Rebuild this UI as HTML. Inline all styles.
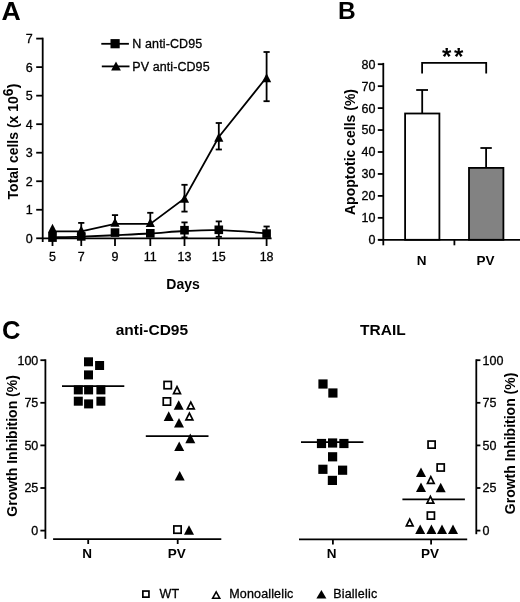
<!DOCTYPE html><html><head><meta charset="utf-8"><style>html,body{margin:0;padding:0;background:#fff;}svg{display:block;filter:grayscale(1);}text{font-family:"Liberation Sans", sans-serif;fill:#000;} text.r{stroke:#000;stroke-width:0.3px;}</style></head><body>
<svg width="520" height="602" viewBox="0 0 520 602">
<rect width="520" height="602" fill="#fff"/>
<text transform="translate(1.5,19.6) scale(1.05,1)" font-size="25.4" font-weight="bold">A</text>
<line x1="42.70" y1="37.70" x2="42.70" y2="242.00" stroke="#000" stroke-width="1.8"/>
<line x1="36.20" y1="238.30" x2="42.70" y2="238.30" stroke="#000" stroke-width="1.8"/>
<text x="32.70" y="242.70" font-size="12.5" text-anchor="end" class="r">0</text>
<line x1="36.20" y1="209.77" x2="42.70" y2="209.77" stroke="#000" stroke-width="1.8"/>
<text x="32.70" y="214.17" font-size="12.5" text-anchor="end" class="r">1</text>
<line x1="36.20" y1="181.24" x2="42.70" y2="181.24" stroke="#000" stroke-width="1.8"/>
<text x="32.70" y="185.64" font-size="12.5" text-anchor="end" class="r">2</text>
<line x1="36.20" y1="152.71" x2="42.70" y2="152.71" stroke="#000" stroke-width="1.8"/>
<text x="32.70" y="157.11" font-size="12.5" text-anchor="end" class="r">3</text>
<line x1="36.20" y1="124.19" x2="42.70" y2="124.19" stroke="#000" stroke-width="1.8"/>
<text x="32.70" y="128.59" font-size="12.5" text-anchor="end" class="r">4</text>
<line x1="36.20" y1="95.66" x2="42.70" y2="95.66" stroke="#000" stroke-width="1.8"/>
<text x="32.70" y="100.06" font-size="12.5" text-anchor="end" class="r">5</text>
<line x1="36.20" y1="67.13" x2="42.70" y2="67.13" stroke="#000" stroke-width="1.8"/>
<text x="32.70" y="71.53" font-size="12.5" text-anchor="end" class="r">6</text>
<line x1="36.20" y1="38.60" x2="42.70" y2="38.60" stroke="#000" stroke-width="1.8"/>
<text x="32.70" y="43.00" font-size="12.5" text-anchor="end" class="r">7</text>
<line x1="42.70" y1="238.30" x2="271.60" y2="238.30" stroke="#000" stroke-width="1.8"/>
<line x1="52.50" y1="238.30" x2="52.50" y2="246.00" stroke="#000" stroke-width="1.8"/>
<text x="52.50" y="260.80" font-size="12.5" text-anchor="middle" class="r">5</text>
<line x1="81.25" y1="238.30" x2="81.25" y2="246.00" stroke="#000" stroke-width="1.8"/>
<text x="81.25" y="260.80" font-size="12.5" text-anchor="middle" class="r">7</text>
<line x1="115.00" y1="238.30" x2="115.00" y2="246.00" stroke="#000" stroke-width="1.8"/>
<text x="115.00" y="260.80" font-size="12.5" text-anchor="middle" class="r">9</text>
<line x1="150.30" y1="238.30" x2="150.30" y2="246.00" stroke="#000" stroke-width="1.8"/>
<text x="150.30" y="260.80" font-size="12.5" text-anchor="middle" class="r">11</text>
<line x1="184.50" y1="238.30" x2="184.50" y2="246.00" stroke="#000" stroke-width="1.8"/>
<text x="184.50" y="260.80" font-size="12.5" text-anchor="middle" class="r">13</text>
<line x1="218.80" y1="238.30" x2="218.80" y2="246.00" stroke="#000" stroke-width="1.8"/>
<text x="218.80" y="260.80" font-size="12.5" text-anchor="middle" class="r">15</text>
<line x1="266.60" y1="238.30" x2="266.60" y2="246.00" stroke="#000" stroke-width="1.8"/>
<text x="266.60" y="260.80" font-size="12.5" text-anchor="middle" class="r">18</text>
<text x="183.00" y="288.80" font-size="14" text-anchor="middle" font-weight="bold">Days</text>
<text transform="translate(17.9,199.4) rotate(-90)" font-size="14" font-weight="bold">Total cells (x 10<tspan dy="-5">6</tspan><tspan dy="5">)</tspan></text>
<line x1="101.30" y1="43.80" x2="128.90" y2="43.80" stroke="#000" stroke-width="1.8"/>
<rect x="110.50" y="39.10" width="9.20" height="9.20" fill="#000"/>
<text x="132.30" y="48.20" font-size="12.5" text-anchor="start" class="r" letter-spacing="0.12">N anti-CD95</text>
<line x1="101.80" y1="66.40" x2="129.50" y2="66.40" stroke="#000" stroke-width="1.8"/>
<polygon points="116.00,61.40 120.90,70.60 111.10,70.60" fill="#000"/>
<text x="132.30" y="70.70" font-size="12.5" text-anchor="start" class="r" letter-spacing="0.08">PV anti-CD95</text>
<path d="M52.50,237.30 C57.29,237.18 70.83,236.95 81.25,236.60 C91.67,236.25 103.49,235.72 115.00,235.20 C126.51,234.68 138.72,234.20 150.30,233.50 C161.88,232.80 173.08,231.55 184.50,231.00 C195.92,230.45 205.12,229.83 218.80,230.20 C232.48,230.57 258.63,232.70 266.60,233.20" fill="none" stroke="#000" stroke-width="1.8"/>
<polyline points="52.50,231.30 81.25,231.30 115.00,223.90 150.30,223.90 184.50,198.40 218.80,137.00 266.60,77.30" fill="none" stroke="#000" stroke-width="1.8"/>

<line x1="81.25" y1="231.30" x2="81.25" y2="222.90" stroke="#000" stroke-width="1.8"/><line x1="78.15" y1="222.90" x2="84.35" y2="222.90" stroke="#000" stroke-width="1.8"/>
<line x1="115.00" y1="223.90" x2="115.00" y2="215.10" stroke="#000" stroke-width="1.8"/><line x1="111.90" y1="215.10" x2="118.10" y2="215.10" stroke="#000" stroke-width="1.8"/>
<line x1="150.30" y1="223.90" x2="150.30" y2="212.80" stroke="#000" stroke-width="1.8"/><line x1="147.20" y1="212.80" x2="153.40" y2="212.80" stroke="#000" stroke-width="1.8"/>
<line x1="184.50" y1="198.40" x2="184.50" y2="184.80" stroke="#000" stroke-width="1.8"/><line x1="181.40" y1="184.80" x2="187.60" y2="184.80" stroke="#000" stroke-width="1.8"/><line x1="184.50" y1="198.40" x2="184.50" y2="211.60" stroke="#000" stroke-width="1.8"/><line x1="181.40" y1="211.60" x2="187.60" y2="211.60" stroke="#000" stroke-width="1.8"/>
<line x1="218.80" y1="137.00" x2="218.80" y2="123.00" stroke="#000" stroke-width="1.8"/><line x1="215.70" y1="123.00" x2="221.90" y2="123.00" stroke="#000" stroke-width="1.8"/><line x1="218.80" y1="137.00" x2="218.80" y2="149.50" stroke="#000" stroke-width="1.8"/><line x1="215.70" y1="149.50" x2="221.90" y2="149.50" stroke="#000" stroke-width="1.8"/>
<line x1="266.60" y1="77.30" x2="266.60" y2="52.00" stroke="#000" stroke-width="1.8"/><line x1="263.50" y1="52.00" x2="269.70" y2="52.00" stroke="#000" stroke-width="1.8"/><line x1="266.60" y1="77.30" x2="266.60" y2="101.20" stroke="#000" stroke-width="1.8"/><line x1="263.50" y1="101.20" x2="269.70" y2="101.20" stroke="#000" stroke-width="1.8"/>
<line x1="184.50" y1="230.20" x2="184.50" y2="222.40" stroke="#000" stroke-width="1.8"/><line x1="181.40" y1="222.40" x2="187.60" y2="222.40" stroke="#000" stroke-width="1.8"/><line x1="184.50" y1="230.20" x2="184.50" y2="237.40" stroke="#000" stroke-width="1.8"/><line x1="181.40" y1="237.40" x2="187.60" y2="237.40" stroke="#000" stroke-width="1.8"/>
<line x1="218.80" y1="229.80" x2="218.80" y2="221.40" stroke="#000" stroke-width="1.8"/><line x1="215.70" y1="221.40" x2="221.90" y2="221.40" stroke="#000" stroke-width="1.8"/><line x1="218.80" y1="229.80" x2="218.80" y2="236.80" stroke="#000" stroke-width="1.8"/><line x1="215.70" y1="236.80" x2="221.90" y2="236.80" stroke="#000" stroke-width="1.8"/>
<line x1="266.60" y1="233.60" x2="266.60" y2="226.50" stroke="#000" stroke-width="1.8"/><line x1="263.50" y1="226.50" x2="269.70" y2="226.50" stroke="#000" stroke-width="1.8"/>
<rect x="48.20" y="233.30" width="8.60" height="8.60" fill="#000"/>
<rect x="76.95" y="232.10" width="8.60" height="8.60" fill="#000"/>
<rect x="110.70" y="228.30" width="8.60" height="8.60" fill="#000"/>
<rect x="146.00" y="229.00" width="8.60" height="8.60" fill="#000"/>
<rect x="180.20" y="225.90" width="8.60" height="8.60" fill="#000"/>
<rect x="214.50" y="225.50" width="8.60" height="8.60" fill="#000"/>
<rect x="262.30" y="229.30" width="8.60" height="8.60" fill="#000"/>
<rect x="48.4" y="232.0" width="8.2" height="2.2" fill="#000"/>
<polygon points="52.50,223.75 57.10,232.65 47.90,232.65" fill="#000"/>
<polygon points="81.25,225.55 85.85,234.45 76.65,234.45" fill="#000"/>
<polygon points="115.00,217.75 119.60,226.65 110.40,226.65" fill="#000"/>
<polygon points="150.30,218.05 154.90,226.95 145.70,226.95" fill="#000"/>
<polygon points="184.50,193.95 189.10,202.85 179.90,202.85" fill="#000"/>
<polygon points="218.80,132.75 223.40,141.65 214.20,141.65" fill="#000"/>
<polygon points="266.60,73.25 271.20,82.15 262.00,82.15" fill="#000"/>
<text x="338.00" y="19.10" font-size="24.5" text-anchor="start" font-weight="bold">B</text>
<line x1="383.30" y1="62.90" x2="383.30" y2="239.80" stroke="#000" stroke-width="1.8"/>
<line x1="377.80" y1="239.80" x2="383.30" y2="239.80" stroke="#000" stroke-width="1.8"/>
<text x="375.50" y="244.20" font-size="12.5" text-anchor="end" class="r">0</text>
<line x1="377.80" y1="217.85" x2="383.30" y2="217.85" stroke="#000" stroke-width="1.8"/>
<text x="375.50" y="222.25" font-size="12.5" text-anchor="end" class="r">10</text>
<line x1="377.80" y1="195.90" x2="383.30" y2="195.90" stroke="#000" stroke-width="1.8"/>
<text x="375.50" y="200.30" font-size="12.5" text-anchor="end" class="r">20</text>
<line x1="377.80" y1="173.95" x2="383.30" y2="173.95" stroke="#000" stroke-width="1.8"/>
<text x="375.50" y="178.35" font-size="12.5" text-anchor="end" class="r">30</text>
<line x1="377.80" y1="152.00" x2="383.30" y2="152.00" stroke="#000" stroke-width="1.8"/>
<text x="375.50" y="156.40" font-size="12.5" text-anchor="end" class="r">40</text>
<line x1="377.80" y1="130.05" x2="383.30" y2="130.05" stroke="#000" stroke-width="1.8"/>
<text x="375.50" y="134.45" font-size="12.5" text-anchor="end" class="r">50</text>
<line x1="377.80" y1="108.10" x2="383.30" y2="108.10" stroke="#000" stroke-width="1.8"/>
<text x="375.50" y="112.50" font-size="12.5" text-anchor="end" class="r">60</text>
<line x1="377.80" y1="86.15" x2="383.30" y2="86.15" stroke="#000" stroke-width="1.8"/>
<text x="375.50" y="90.55" font-size="12.5" text-anchor="end" class="r">70</text>
<line x1="377.80" y1="64.20" x2="383.30" y2="64.20" stroke="#000" stroke-width="1.8"/>
<text x="375.50" y="68.60" font-size="12.5" text-anchor="end" class="r">80</text>
<line x1="378.30" y1="239.80" x2="520.00" y2="239.80" stroke="#000" stroke-width="1.8"/>
<line x1="383.30" y1="239.80" x2="383.30" y2="245.30" stroke="#000" stroke-width="1.8"/>
<line x1="454.40" y1="239.80" x2="454.40" y2="245.30" stroke="#000" stroke-width="1.8"/>
<rect x="405.1" y="113.5" width="34.3" height="126.30" fill="#fff" stroke="#000" stroke-width="1.8"/>
<rect x="469.0" y="167.9" width="34.4" height="71.90" fill="#828282" stroke="#000" stroke-width="1.8"/>
<line x1="422.20" y1="113.50" x2="422.20" y2="90.00" stroke="#000" stroke-width="1.8"/><line x1="416.20" y1="90.00" x2="428.00" y2="90.00" stroke="#000" stroke-width="1.8"/>
<line x1="486.10" y1="167.90" x2="486.10" y2="148.00" stroke="#000" stroke-width="1.8"/><line x1="480.40" y1="148.00" x2="491.80" y2="148.00" stroke="#000" stroke-width="1.8"/>
<polyline points="422.1,73.6 422.1,62.8 486.2,62.8 486.2,73.6" fill="none" stroke="#000" stroke-width="1.8"/>
<text x="442.00" y="64.60" font-size="24" text-anchor="start" font-weight="bold" letter-spacing="2.6">**</text>
<text x="421.50" y="264.50" font-size="13.5" text-anchor="middle" font-weight="bold">N</text>
<text x="485.60" y="264.60" font-size="13.5" text-anchor="middle" font-weight="bold">PV</text>
<text transform="translate(355.2,152.0) rotate(-90)" font-size="14" font-weight="bold" text-anchor="middle">Apoptotic cells (%)</text>
<text x="2.10" y="338.60" font-size="25.5" text-anchor="start" font-weight="bold">C</text>
<text x="151.90" y="335.20" font-size="15.5" text-anchor="middle" font-weight="bold">anti-CD95</text>
<text x="382.90" y="334.60" font-size="15.5" text-anchor="middle" font-weight="bold">TRAIL</text>
<line x1="45.40" y1="359.30" x2="45.40" y2="538.90" stroke="#000" stroke-width="1.8"/>
<line x1="40.40" y1="530.60" x2="45.40" y2="530.60" stroke="#000" stroke-width="1.8"/>
<text x="38.30" y="535.00" font-size="12.5" text-anchor="end" class="r">0</text>
<line x1="40.40" y1="488.00" x2="45.40" y2="488.00" stroke="#000" stroke-width="1.8"/>
<text x="38.30" y="492.40" font-size="12.5" text-anchor="end" class="r">25</text>
<line x1="40.40" y1="445.40" x2="45.40" y2="445.40" stroke="#000" stroke-width="1.8"/>
<text x="38.30" y="449.80" font-size="12.5" text-anchor="end" class="r">50</text>
<line x1="40.40" y1="402.80" x2="45.40" y2="402.80" stroke="#000" stroke-width="1.8"/>
<text x="38.30" y="407.20" font-size="12.5" text-anchor="end" class="r">75</text>
<line x1="40.40" y1="360.20" x2="45.40" y2="360.20" stroke="#000" stroke-width="1.8"/>
<text x="38.30" y="364.60" font-size="12.5" text-anchor="end" class="r">100</text>
<line x1="53.10" y1="539.20" x2="221.30" y2="539.20" stroke="#000" stroke-width="1.8"/>
<line x1="88.20" y1="539.20" x2="88.20" y2="544.00" stroke="#000" stroke-width="1.8"/>
<line x1="177.70" y1="539.20" x2="177.70" y2="544.00" stroke="#000" stroke-width="1.8"/>
<text x="87.00" y="558.40" font-size="13.5" text-anchor="middle" font-weight="bold">N</text>
<text x="176.70" y="558.40" font-size="13.5" text-anchor="middle" font-weight="bold">PV</text>
<text transform="translate(17.0,445.9) rotate(-90)" font-size="14" font-weight="bold" text-anchor="middle">Growth Inhibition (%)</text>
<line x1="62.00" y1="386.10" x2="124.30" y2="386.10" stroke="#000" stroke-width="1.8"/>
<line x1="145.80" y1="436.20" x2="208.50" y2="436.20" stroke="#000" stroke-width="1.8"/>
<rect x="84.00" y="357.30" width="9.00" height="9.00" fill="#000"/>
<rect x="95.10" y="361.00" width="9.00" height="9.00" fill="#000"/>
<rect x="84.00" y="370.40" width="9.00" height="9.00" fill="#000"/>
<rect x="73.80" y="385.40" width="9.00" height="9.00" fill="#000"/>
<rect x="84.10" y="385.40" width="9.00" height="9.00" fill="#000"/>
<rect x="96.40" y="385.40" width="9.00" height="9.00" fill="#000"/>
<rect x="73.80" y="396.70" width="9.00" height="9.00" fill="#000"/>
<rect x="84.10" y="399.40" width="9.00" height="9.00" fill="#000"/>
<rect x="96.40" y="396.70" width="9.00" height="9.00" fill="#000"/>
<rect x="164.05" y="381.45" width="7.30" height="7.30" fill="#fff" stroke="#000" stroke-width="1.7"/>
<rect x="163.25" y="397.85" width="7.30" height="7.30" fill="#fff" stroke="#000" stroke-width="1.7"/>
<rect x="173.85" y="525.95" width="7.30" height="7.30" fill="#fff" stroke="#000" stroke-width="1.7"/>
<polygon points="177.00,386.73 180.44,393.55 173.56,393.55" fill="#fff" stroke="#000" stroke-width="1.7" stroke-linejoin="miter"/>
<polygon points="190.80,402.13 194.24,408.95 187.36,408.95" fill="#fff" stroke="#000" stroke-width="1.7" stroke-linejoin="miter"/>
<polygon points="189.40,413.03 192.84,419.85 185.96,419.85" fill="#fff" stroke="#000" stroke-width="1.7" stroke-linejoin="miter"/>
<polygon points="178.70,400.20 183.70,409.80 173.70,409.80" fill="#000"/>
<polygon points="168.70,411.30 173.70,420.90 163.70,420.90" fill="#000"/>
<polygon points="179.00,417.90 184.00,427.50 174.00,427.50" fill="#000"/>
<polygon points="190.30,433.60 195.30,443.20 185.30,443.20" fill="#000"/>
<polygon points="179.20,441.50 184.20,451.10 174.20,451.10" fill="#000"/>
<polygon points="179.70,471.00 184.70,480.60 174.70,480.60" fill="#000"/>
<polygon points="189.00,525.20 194.00,534.80 184.00,534.80" fill="#000"/>
<line x1="299.00" y1="539.30" x2="467.20" y2="539.30" stroke="#000" stroke-width="1.8"/>
<line x1="332.90" y1="539.30" x2="332.90" y2="544.60" stroke="#000" stroke-width="1.8"/>
<line x1="431.10" y1="539.30" x2="431.10" y2="544.60" stroke="#000" stroke-width="1.8"/>
<text x="331.70" y="558.20" font-size="13.5" text-anchor="middle" font-weight="bold">N</text>
<text x="430.00" y="557.90" font-size="13.5" text-anchor="middle" font-weight="bold">PV</text>
<line x1="301.00" y1="442.20" x2="363.40" y2="442.20" stroke="#000" stroke-width="1.8"/>
<line x1="402.40" y1="499.40" x2="464.90" y2="499.40" stroke="#000" stroke-width="1.8"/>
<rect x="318.40" y="379.40" width="9.20" height="9.20" fill="#000"/>
<rect x="328.30" y="388.40" width="9.20" height="9.20" fill="#000"/>
<rect x="316.90" y="438.90" width="9.20" height="9.20" fill="#000"/>
<rect x="328.00" y="438.40" width="9.20" height="9.20" fill="#000"/>
<rect x="339.30" y="438.90" width="9.20" height="9.20" fill="#000"/>
<rect x="328.00" y="452.20" width="9.20" height="9.20" fill="#000"/>
<rect x="318.30" y="464.70" width="9.20" height="9.20" fill="#000"/>
<rect x="338.00" y="465.60" width="9.20" height="9.20" fill="#000"/>
<rect x="327.80" y="475.80" width="9.20" height="9.20" fill="#000"/>
<rect x="428.05" y="441.05" width="7.10" height="7.10" fill="#fff" stroke="#000" stroke-width="1.7"/>
<rect x="437.15" y="463.95" width="7.10" height="7.10" fill="#fff" stroke="#000" stroke-width="1.7"/>
<rect x="427.35" y="512.05" width="7.10" height="7.10" fill="#fff" stroke="#000" stroke-width="1.7"/>
<polygon points="430.80,476.63 434.14,483.45 427.46,483.45" fill="#fff" stroke="#000" stroke-width="1.7" stroke-linejoin="miter"/>
<polygon points="430.40,496.33 433.74,503.15 427.06,503.15" fill="#fff" stroke="#000" stroke-width="1.7" stroke-linejoin="miter"/>
<polygon points="409.70,519.13 413.04,525.95 406.36,525.95" fill="#fff" stroke="#000" stroke-width="1.7" stroke-linejoin="miter"/>
<polygon points="421.00,467.40 426.00,477.00 416.00,477.00" fill="#000"/>
<polygon points="421.00,482.50 426.00,492.10 416.00,492.10" fill="#000"/>
<polygon points="440.70,482.70 445.70,492.30 435.70,492.30" fill="#000"/>
<polygon points="420.20,524.40 425.20,534.00 415.20,534.00" fill="#000"/>
<polygon points="431.40,524.40 436.40,534.00 426.40,534.00" fill="#000"/>
<polygon points="442.00,524.40 447.00,534.00 437.00,534.00" fill="#000"/>
<polygon points="453.00,524.40 458.00,534.00 448.00,534.00" fill="#000"/>
<line x1="476.30" y1="359.30" x2="476.30" y2="534.20" stroke="#000" stroke-width="1.8"/>
<line x1="476.30" y1="530.60" x2="480.40" y2="530.60" stroke="#000" stroke-width="1.8"/>
<text x="482.60" y="535.00" font-size="12.5" text-anchor="start" class="r">0</text>
<line x1="476.30" y1="488.00" x2="480.40" y2="488.00" stroke="#000" stroke-width="1.8"/>
<text x="482.60" y="492.40" font-size="12.5" text-anchor="start" class="r">25</text>
<line x1="476.30" y1="445.40" x2="480.40" y2="445.40" stroke="#000" stroke-width="1.8"/>
<text x="482.60" y="449.80" font-size="12.5" text-anchor="start" class="r">50</text>
<line x1="476.30" y1="402.80" x2="480.40" y2="402.80" stroke="#000" stroke-width="1.8"/>
<text x="482.60" y="407.20" font-size="12.5" text-anchor="start" class="r">75</text>
<line x1="476.30" y1="360.20" x2="480.40" y2="360.20" stroke="#000" stroke-width="1.8"/>
<text x="482.60" y="364.60" font-size="12.5" text-anchor="start" class="r">100</text>
<text transform="translate(515.2,443.4) rotate(-90)" font-size="14" font-weight="bold" text-anchor="middle">Growth Inhibition (%)</text>
<rect x="142.85" y="591.05" width="6.10" height="6.10" fill="#fff" stroke="#000" stroke-width="1.7"/>
<text x="159.60" y="598.30" font-size="12.5" text-anchor="start" class="r">WT</text>
<polygon points="216.20,591.85 219.80,598.35 212.60,598.35" fill="#fff" stroke="#000" stroke-width="1.5" stroke-linejoin="miter"/>
<text x="229.30" y="598.30" font-size="12.5" text-anchor="start" class="r" letter-spacing="0.15">Monoallelic</text>
<polygon points="321.40,590.00 326.40,598.40 316.40,598.40" fill="#000"/>
<text x="333.20" y="598.30" font-size="12.5" text-anchor="start" class="r" letter-spacing="0.2">Biallelic</text>
</svg></body></html>
